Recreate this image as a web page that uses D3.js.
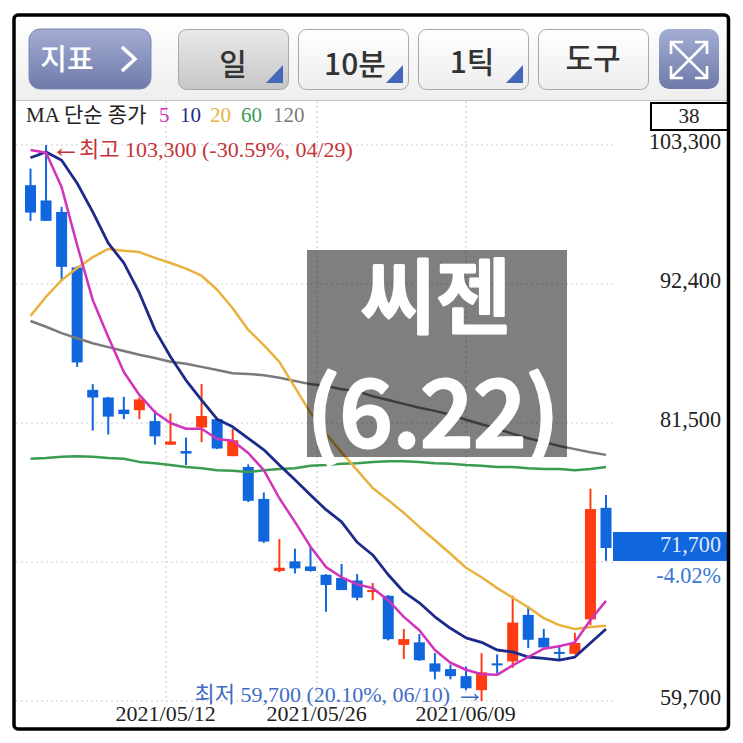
<!DOCTYPE html>
<html>
<head>
<meta charset="utf-8">
<script src="https://cdn.jsdelivr.net/npm/d3@7"></script>
<style>
  html, body { margin: 0; background: #fff; }
  text { font-family: "Liberation Serif", "Noto Sans CJK KR", serif; }
  .ui text { font-family: "Noto Sans CJK KR", sans-serif; }
</style>
</head>
<body>
<div id="chart"></div>
<script>
// 거래일 (38개)
const dates = ["04/28","04/29","04/30","05/03","05/04","05/06","05/07","05/10","05/11","05/12","05/13","05/14","05/17","05/18","05/20","05/21","05/24","05/25","05/26","05/27","05/28","05/31","06/01","06/02","06/03","06/04","06/07","06/08","06/09","06/10","06/11","06/14","06/15","06/16","06/17","06/18","06/21","06/22"];

// 시가 고가 저가 종가
const open  = [100150,98950,98050,93700,84100,83500,82550,82500,81650,79800,79300,81150,81800,78900,78050,75550,69900,70650,70250,69600,69350,69150,68300,67950,64100,64300,62650,62200,61650,60550,62650,62800,66450,64650,63550,63400,66100,74850];
const high  = [101450,103300,98450,93800,84550,83550,83550,83500,82500,82250,80350,84550,81800,81050,78250,76050,72400,71650,71750,69650,70450,69650,68950,68000,65350,64950,63450,62550,62400,63450,63350,67950,67150,65350,64100,65050,76350,75850];
const low   = [97350,97350,92650,85900,80900,80600,81800,81800,79800,79800,78200,80000,79450,78900,75300,72100,69800,69700,69850,66700,68400,67600,67600,64450,63000,62850,61400,61400,60550,59700,61850,62300,63850,63900,62850,63350,65650,70700];
const close = [98000,97350,93750,86250,83500,82000,82200,83350,80450,80050,79100,82050,79500,80150,75400,72200,70150,70100,69900,68800,68400,67800,68400,64550,64550,62900,62000,61650,60700,61950,62550,65850,64500,63900,63400,64250,74750,71700];

// 이동평균
const ma5   = [102900,102700,100000,95450,91150,88250,85500,83700,82350,81500,81050,81050,80250,80100,79150,77800,75600,73750,71800,70200,69400,68850,68550,67600,66300,65250,63700,62700,62150,61800,61750,62500,63150,63800,64000,64300,66050,67550];
const ma10  = [102300,102750,102100,100300,98050,95600,94050,91700,88800,86700,84850,83300,81800,81200,80300,79400,78200,77050,75850,74700,73750,72150,71150,69600,68250,67400,66300,65400,64650,64300,63700,63550,63150,63050,62900,63150,64250,65350];
const ma20  = [89900,91400,92700,93650,94500,95150,95000,94900,94450,94050,93600,93050,91950,90500,88800,87600,86300,84300,82300,80650,79200,77800,76400,75450,74450,73350,72300,71250,70150,69400,68550,67800,67050,66200,65650,65350,65500,65600];
const ma60  = [78700,78750,78850,78900,78850,78750,78700,78450,78350,78200,78050,77950,77800,77750,77650,77800,77900,77950,78150,78200,78300,78350,78450,78500,78500,78450,78350,78300,78200,78150,78050,78050,77950,77900,77900,77800,77900,78050];
const ma120 = [89500,89050,88550,88150,87750,87450,87150,86850,86600,86300,86150,85900,85650,85400,85350,85250,85050,84800,84550,84400,84150,84000,83600,83300,83000,82700,82450,82150,81750,81400,81050,80650,80300,80000,79700,79450,79200,79000];

const maNames = ["5","10","20","60","120"];
const maColors = ["#d233b9","#1c2b8a","#e8b23e","#3a9c50","#7a7a7a"];

const yGrid = [103300,92400,81500,70600,59700];
const yLabels = [103300,92400,81500,59700];
const xGrid = [8.72,18.43,28];
const xLabels = ["2021/05/12","2021/05/26","2021/06/09"];
const lastPrice = 71700;

const buttons = ["일","10분","1틱","도구"];

const width = 743, height = 743;
const svg = d3.select("#chart").append("svg").attr("width", width).attr("height", height);

const x = d3.scaleLinear().domain([0, dates.length - 1]).range([30.5, 606]);
const y = d3.scaleLinear().domain([59700, 103300]).range([701, 145]);

// 그라데이션
const defs = svg.append("defs");
function grad(id, c1, c2) {
  const g = defs.append("linearGradient").attr("id", id).attr("x1", 0).attr("x2", 0).attr("y1", 0).attr("y2", 1);
  g.append("stop").attr("offset", 0).attr("stop-color", c1);
  g.append("stop").attr("offset", 1).attr("stop-color", c2);
}
grad("barBg", "#ffffff", "#eeeeee");
grad("blueBtn", "#a3add3", "#6f7aa9");
grad("whiteBtn", "#ffffff", "#ededed");
grad("grayBtn", "#e9e9e9", "#c6c6c6");

// 상단 툴바
const ui = svg.append("g").attr("class", "ui");
ui.append("rect").attr("x", 14).attr("y", 17).attr("width", 714).attr("height", 83).attr("fill", "url(#barBg)");
ui.append("line").attr("x1", 14).attr("x2", 728).attr("y1", 100.5).attr("y2", 100.5).attr("stroke", "#c8c8c8");

ui.append("rect").attr("x", 29).attr("y", 29).attr("width", 122).attr("height", 60).attr("rx", 11)
  .attr("fill", "url(#blueBtn)").attr("stroke", "#7d88b5");
ui.append("text").attr("x", 67).attr("y", 70).attr("text-anchor", "middle").attr("font-size", 29).attr("font-weight", 500)
  .attr("fill", "#fff").text("지표");
ui.append("path").attr("d", "M122,47 L135,59 L122,71").attr("fill", "none").attr("stroke", "#fff").attr("stroke-width", 3.5);

const btnX = [178, 298, 418, 538];
const btnTextX = [233, 355, 472, 593];
const btnTextY = [75, 75, 73, 69];
buttons.forEach((b, i) => {
  ui.append("rect").attr("x", btnX[i] + 0.5).attr("y", 29.5).attr("width", 110).attr("height", 60).attr("rx", 8)
    .attr("fill", i === 0 ? "url(#grayBtn)" : "url(#whiteBtn)").attr("stroke", "#a8a8a8");
  ui.append("text").attr("x", btnTextX[i]).attr("y", btnTextY[i]).attr("text-anchor", "middle")
    .attr("font-size", 30).attr("font-weight", 500).attr("fill", "#333").text(b);
  if (i < 3) {
    const r = btnX[i] + 105;
    ui.append("path").attr("d", `M${r - 17},83 L${r},83 L${r},65 Z`).attr("fill", "#4467b9");
  }
});

ui.append("rect").attr("x", 659).attr("y", 29).attr("width", 60).attr("height", 60).attr("rx", 10).attr("fill", "url(#blueBtn)");
ui.append("path")
  .attr("d", "M671,42 L707,78 M707,42 L671,78 M671,54 L671,42 L683,42 M695,42 L707,42 L707,54 M671,66 L671,78 L683,78 M695,78 L707,78 L707,66")
  .attr("fill", "none").attr("stroke", "#fff").attr("stroke-width", 2.6);

// 그리드
const grid = svg.append("g").attr("stroke", "#cfcfcf").attr("stroke-width", 1.2).attr("stroke-dasharray", "2 3");
grid.selectAll("line.h").data(yGrid).enter().append("line").attr("class", "h")
  .attr("x1", 16).attr("x2", 614).attr("y1", d => y(d)).attr("y2", d => y(d));
grid.selectAll("line.v").data(xGrid).enter().append("line").attr("class", "v")
  .attr("x1", d => x(d)).attr("x2", d => x(d)).attr("y1", 101).attr("y2", 701);

// 축 라벨
const yAxis = d3.axisRight(y).tickValues(yLabels).tickSize(0).tickPadding(0).tickFormat(d3.format(","));
const yG = svg.append("g").attr("transform", "translate(721,-4)").call(yAxis);
yG.select(".domain").remove();
yG.selectAll("text").attr("text-anchor", "end").attr("font-size", 22.2).attr("fill", "#222")
  .style("font-family", "'Liberation Serif'");

const xAxis = d3.axisBottom(x).tickValues(xGrid).tickSize(0).tickPadding(0).tickFormat((d, i) => xLabels[i]);
const xG = svg.append("g").attr("transform", "translate(-1,705)").call(xAxis);
xG.select(".domain").remove();
xG.selectAll("text").attr("font-size", 22).attr("fill", "#222").style("font-family", "'Liberation Serif'");

// 캔들
const idx = d3.range(dates.length);
const upColor = "#ff3b12", downColor = "#0f66dd";
const candles = svg.append("g");
candles.selectAll("line").data(idx).enter().append("line")
  .attr("x1", d => x(d)).attr("x2", d => x(d))
  .attr("y1", d => y(high[d])).attr("y2", d => y(low[d]))
  .attr("stroke", d => close[d] >= open[d] ? upColor : downColor).attr("stroke-width", 2);
candles.selectAll("rect").data(idx).enter().append("rect")
  .attr("x", d => x(d) - 5.5).attr("width", 11)
  .attr("y", d => y(Math.max(open[d], close[d])))
  .attr("height", d => Math.max(2, Math.abs(y(open[d]) - y(close[d]))))
  .attr("fill", d => close[d] >= open[d] ? upColor : downColor);

// 이동평균선
const line = d3.line().x((d, i) => x(i)).y(d => y(d));
[ma120, ma60, ma20, ma10, ma5].forEach((s, i) => {
  svg.append("path").datum(s).attr("d", line).attr("fill", "none")
    .attr("stroke", maColors[4 - i]).attr("stroke-width", i === 3 ? 2.8 : 2.5).attr("stroke-linejoin", "round");
});

// 범례
svg.append("text").attr("x", 26).attr("y", 122).attr("font-size", 21).attr("fill", "#222").text("MA 단순 종가");
const legendX = [159, 180, 210, 241, 273];
maNames.forEach((n, i) => {
  svg.append("text").attr("x", legendX[i]).attr("y", 122).attr("font-size", 21).attr("fill", maColors[i]).text(n);
});

// 최고 최저
svg.append("text").attr("x", 51).attr("y", 157).attr("font-size", 30).attr("fill", "#c4343a").text("←");
svg.append("text").attr("x", 79).attr("y", 157).attr("font-size", 22).attr("fill", "#c4343a")
  .text("최고 103,300 (-30.59%, 04/29)");
svg.append("text").attr("x", 450).attr("y", 702).attr("text-anchor", "end").attr("font-size", 22).attr("fill", "#3f6cc8")
  .text("최저 59,700 (20.10%, 06/10)");
svg.append("text").attr("x", 455).attr("y", 702).attr("font-size", 30).attr("fill", "#3f6cc8").text("→");

// 캔들 수 박스
svg.append("rect").attr("x", 651).attr("y", 103).attr("width", 77).attr("height", 27)
  .attr("fill", "#fff").attr("stroke", "#000").attr("stroke-width", 2);
svg.append("text").attr("x", 689).attr("y", 123).attr("text-anchor", "middle").attr("font-size", 21).attr("fill", "#222").text(dates.length);

// 현재가
svg.append("rect").attr("x", 613).attr("y", y(lastPrice) - 16).attr("width", 115).attr("height", 29).attr("fill", "#0f66dd");
svg.append("text").attr("x", 721).attr("y", y(lastPrice) + 4).attr("text-anchor", "end").attr("font-size", 22.2).attr("fill", "#dfe9fb")
  .text(d3.format(",")(lastPrice));
svg.append("text").attr("x", 721).attr("y", 583).attr("text-anchor", "end").attr("font-size", 22.2).attr("fill", "#3a78d2").text("-4.02%");

// 제목 박스
svg.append("rect").attr("x", 307).attr("y", 250).attr("width", 260).attr("height", 207).attr("fill", "#000").attr("opacity", 0.5);
const title = svg.append("g").attr("class", "ui").attr("fill", "#fff").attr("stroke", "#fff").attr("stroke-width", 3).attr("stroke-linejoin", "round")
  .attr("text-anchor", "middle").attr("font-weight", 500);
title.append("text").attr("x", 436).attr("y", 327).attr("font-size", 82).text("씨젠");
title.append("text").attr("x", 433).attr("y", 447).attr("font-size", 93).text("(6.22)");

// 테두리
svg.append("rect").attr("x", 14).attr("y", 15).attr("width", 714.5).attr("height", 714).attr("rx", 4)
  .attr("fill", "none").attr("stroke", "#000").attr("stroke-width", 3.5);
</script>
</body>
</html>
